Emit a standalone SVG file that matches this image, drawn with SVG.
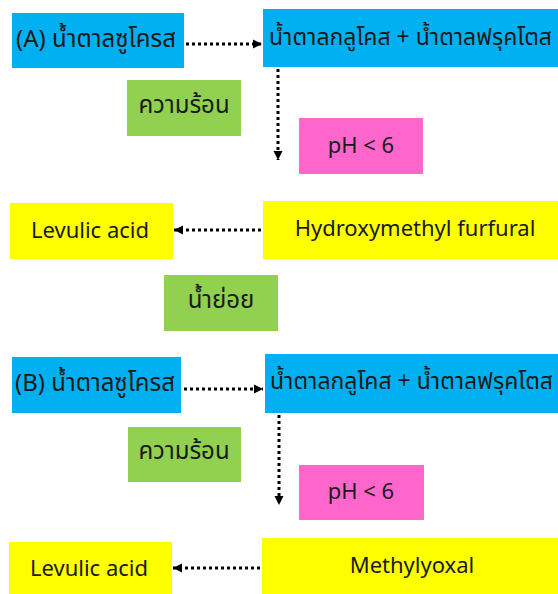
<svg xmlns="http://www.w3.org/2000/svg" width="558" height="594" viewBox="0 0 558 594">
<defs>
<style>
.t{font-family:"Noto Sans Thai","Noto Sans","DejaVu Sans",sans-serif;font-size:22px;fill:#1a1a1a;dominant-baseline:central}
.th{font-size:24px}
.g{font-size:23px}
.c{text-anchor:middle}
.blue{fill:#00B0F0}.green{fill:#92D050}.pink{fill:#FF66CC}.yellow{fill:#FFFF00}
.ln{stroke:#000;stroke-width:3;stroke-dasharray:3 3;fill:none}
</style>
<marker id="ah" markerUnits="userSpaceOnUse" markerWidth="10" markerHeight="10" viewBox="0 0 10 10" refX="9" refY="5" orient="auto">
<path d="M0,0.5 L9,5 L0,9.5 Z" fill="#000"/>
</marker>
</defs>
<rect width="558" height="594" fill="#fff"/>
<g id="connectors">
<line class="ln" x1="186" y1="44" x2="262" y2="44" marker-end="url(#ah)"/>
<line class="ln" x1="278" y1="69" x2="278" y2="160" marker-end="url(#ah)"/>
<line class="ln" x1="261" y1="230" x2="174" y2="230" marker-end="url(#ah)"/>
<line class="ln" x1="184" y1="389" x2="263" y2="389" marker-end="url(#ah)"/>
<line class="ln" x1="279" y1="415" x2="279" y2="505" marker-end="url(#ah)"/>
<line class="ln" x1="260" y1="568" x2="173" y2="568" marker-end="url(#ah)"/>
</g>
<g id="a-sucrose"><rect class="blue" x="12" y="13" width="172" height="55"/><text class="t th c" x="96" y="40">(A) น้ำตาลซูโครส</text></g>
<g id="a-glucose"><rect class="blue" x="263" y="9" width="295" height="58"/><text class="t g" x="269" y="38">น้ำตาลกลูโคส + น้ำตาลฟรุคโตส</text></g>
<g id="a-heat"><rect class="green" x="127" y="80" width="114" height="56"/><text class="t th c" x="184" y="106">ความร้อน</text></g>
<g id="a-ph"><rect class="pink" x="299" y="118" width="124" height="56"/><text class="t c" x="361" y="146">pH &lt; 6</text></g>
<g id="a-levulic"><rect class="yellow" x="10" y="203" width="163" height="56"/><text class="t c" x="90" y="231">Levulic acid</text></g>
<g id="a-hmf"><rect class="yellow" x="263" y="201" width="295" height="58"/><text class="t c" x="415" y="229">Hydroxymethyl furfural</text></g>
<g id="enzyme"><rect class="green" x="164" y="275" width="114" height="56"/><text class="t th c" x="221" y="301">น้ำย่อย</text></g>
<g id="b-sucrose"><rect class="blue" x="12" y="357" width="169" height="56"/><text class="t th c" x="95" y="384">(B) น้ำตาลซูโครส</text></g>
<g id="b-glucose"><rect class="blue" x="265" y="354" width="293" height="59"/><text class="t g" x="270" y="382">น้ำตาลกลูโคส + น้ำตาลฟรุคโตส</text></g>
<g id="b-heat"><rect class="green" x="128" y="427" width="113" height="55"/><text class="t th c" x="184" y="452">ความร้อน</text></g>
<g id="b-ph"><rect class="pink" x="299" y="465" width="125" height="55"/><text class="t c" x="361" y="492">pH &lt; 6</text></g>
<g id="b-levulic"><rect class="yellow" x="9" y="542" width="163" height="52"/><text class="t c" x="89" y="569">Levulic acid</text></g>
<g id="b-methylyoxal"><rect class="yellow" x="262" y="538" width="296" height="56"/><text class="t c" x="412" y="566">Methylyoxal</text></g>
</svg>
